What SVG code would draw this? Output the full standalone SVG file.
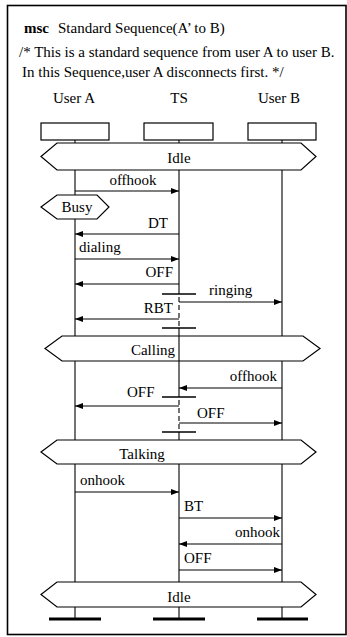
<svg xmlns="http://www.w3.org/2000/svg" width="347" height="637" viewBox="0 0 347 637">
  <defs>
    <marker id="arr" markerUnits="userSpaceOnUse" markerWidth="9" markerHeight="7" refX="8" refY="3" orient="auto">
      <path d="M0,0 L8,3 L0,6 z" fill="#000"/>
    </marker>
  </defs>
  <style>
    text { font-family: "Liberation Serif", "Times New Roman", serif; font-size: 15px; fill: #000; }
    .frame { fill: #fff; stroke: #000; stroke-width: 1.6; }
    .head { fill: #fff; stroke: #000; stroke-width: 1.2; }
    .life { stroke: #000; stroke-width: 1.1; fill: none; }
    .dash { stroke: #000; stroke-width: 1.1; stroke-dasharray: 5 3; fill: none; }
    .cond { fill: #fff; stroke: #000; stroke-width: 1.2; }
    .msg { stroke: #000; stroke-width: 1.1; fill: none; marker-end: url(#arr); }
    .bar { stroke: #000; stroke-width: 1.4; }
    .end { stroke: #000; stroke-width: 3; }
    .mid { text-anchor: middle; }
    .rt { text-anchor: end; }
  </style>

  <rect class="frame" x="7.5" y="5.5" width="338.5" height="629"/>

  <g id="header">
    <text x="24" y="33"><tspan font-weight="bold">msc</tspan><tspan x="58">Standard Sequence(A’ to B)</tspan></text>
    <text x="19" y="57">/* This is a standard sequence from user A to user B.</text>
    <text x="22" y="77">In this Sequence,user A disconnects first. */</text>
  </g>

  <!-- lifelines -->
  <g id="lifelines">
    <line class="life" x1="75" y1="140" x2="75" y2="619"/>
    <line class="life" x1="282" y1="140" x2="282" y2="619"/>
    <line class="life" x1="179" y1="140" x2="179" y2="294"/>
    <line class="dash" x1="179" y1="297" x2="179" y2="328"/>
    <line class="life" x1="179" y1="328" x2="179" y2="397"/>
    <line class="dash" x1="179" y1="400" x2="179" y2="432"/>
    <line class="life" x1="179" y1="432" x2="179" y2="619"/>
  </g>

  <!-- instance heads and ends -->
  <g id="userA">
    <text class="mid" x="74" y="103">User A</text>
    <rect class="head" x="41" y="123" width="68" height="17"/>
    <line class="end" x1="49" y1="619" x2="101" y2="619"/>
  </g>
  <g id="ts">
    <text class="mid" x="179" y="103">TS</text>
    <rect class="head" x="144" y="123" width="69" height="17"/>
    <line class="end" x1="153" y1="619" x2="205" y2="619"/>
  </g>
  <g id="userB">
    <text class="mid" x="279" y="103">User B</text>
    <rect class="head" x="248" y="123" width="68" height="17"/>
    <line class="end" x1="257" y1="619" x2="308" y2="619"/>
  </g>

  <!-- conditions -->
  <g id="idle1">
    <polygon class="cond" points="41,156.5 57,143 301,143 316,156.5 301,170 57,170"/>
    <text class="mid" x="179" y="163">Idle</text>
  </g>
  <g id="busy">
    <polygon class="cond" points="41,207 57,195 97,195 109,207 97,219 57,219"/>
    <text class="mid" x="77" y="212">Busy</text>
  </g>
  <g id="calling">
    <polygon class="cond" points="45,348.5 62,336 303,336 320,348.5 303,361 62,361"/>
    <line class="life" x1="179" y1="336" x2="179" y2="361"/>
    <text class="mid" x="153" y="355">Calling</text>
  </g>
  <g id="talking">
    <polygon class="cond" points="41,452 57,440 301,440 316,452 301,464 57,464"/>
    <text class="mid" x="142" y="459">Talking</text>
  </g>
  <g id="idle2">
    <polygon class="cond" points="41,594.5 57,582 301,582 316,594.5 301,607 57,607"/>
    <text class="mid" x="179" y="602">Idle</text>
  </g>

  <!-- coregions on TS -->
  <g id="coregion1">
    <line class="bar" x1="162" y1="294" x2="196" y2="294"/>
    <line class="bar" x1="162" y1="328" x2="196" y2="328"/>
  </g>
  <g id="coregion2">
    <line class="bar" x1="162" y1="397" x2="196" y2="397"/>
    <line class="bar" x1="162" y1="432" x2="196" y2="432"/>
  </g>

  <!-- messages -->
  <g id="connectors">
    <line class="msg" x1="75" y1="191" x2="179" y2="191"/>
    <line class="msg" x1="179" y1="234" x2="75" y2="234"/>
    <line class="msg" x1="75" y1="259" x2="179" y2="259"/>
    <line class="msg" x1="179" y1="284" x2="75" y2="284"/>
    <line class="msg" x1="179" y1="302" x2="282" y2="302"/>
    <line class="msg" x1="179" y1="319" x2="75" y2="319"/>
    <line class="msg" x1="282" y1="388" x2="179" y2="388"/>
    <line class="msg" x1="179" y1="406" x2="75" y2="406"/>
    <line class="msg" x1="179" y1="423" x2="282" y2="423"/>
    <line class="msg" x1="75" y1="492" x2="179" y2="492"/>
    <line class="msg" x1="179" y1="518" x2="282" y2="518"/>
    <line class="msg" x1="282" y1="544" x2="179" y2="544"/>
    <line class="msg" x1="179" y1="570" x2="282" y2="570"/>
  </g>

  <g id="labels">
    <text class="mid" x="133" y="185">offhook</text>
    <text class="rt" x="168" y="228">DT</text>
    <text x="79" y="252">dialing</text>
    <text class="rt" x="173" y="277">OFF</text>
    <text x="209" y="295">ringing</text>
    <text class="rt" x="173" y="313">RBT</text>
    <text class="rt" x="277" y="381">offhook</text>
    <text x="127" y="397">OFF</text>
    <text x="197" y="418">OFF</text>
    <text x="80" y="485">onhook</text>
    <text x="184" y="511">BT</text>
    <text class="rt" x="280" y="537">onhook</text>
    <text x="184" y="563">OFF</text>
  </g>
</svg>
